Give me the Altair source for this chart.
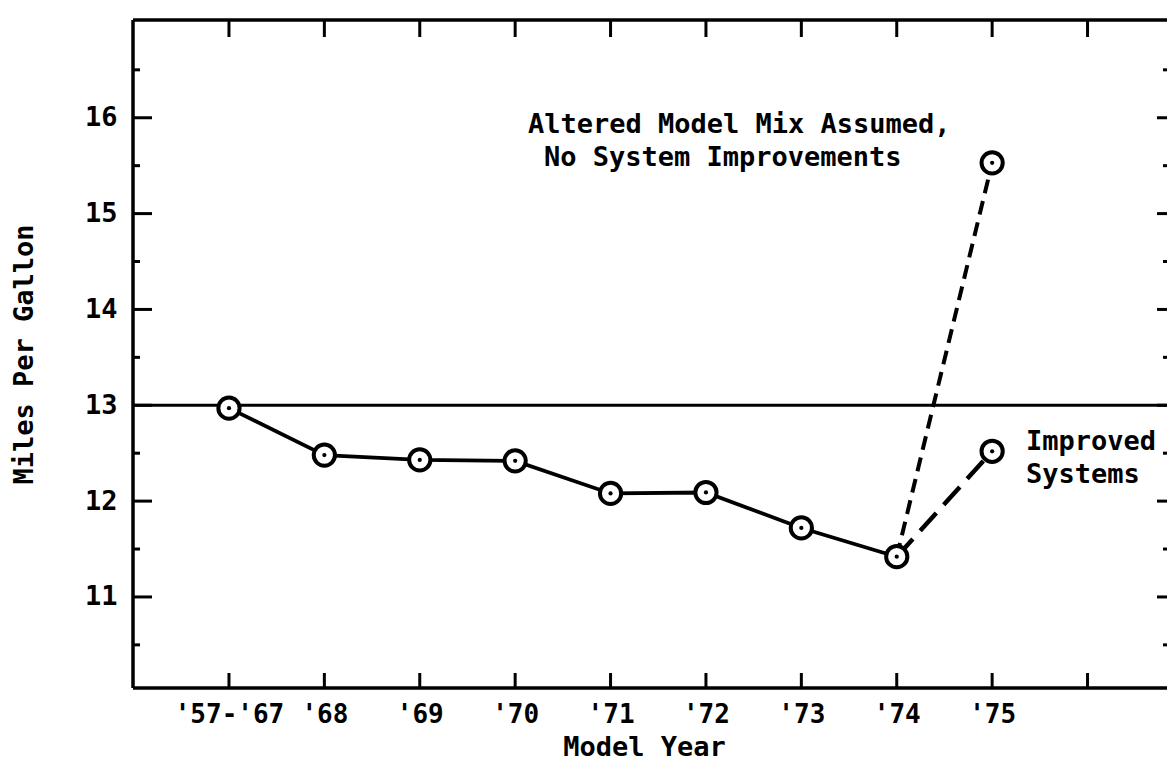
import json
import altair as alt
import pandas as pd

# ---- data ----
years = ["'57-'67", "'68", "'69", "'70", "'71", "'72", "'73", "'74", "'75"]
baseline_idx = [0, 1, 2, 3, 4, 5, 6, 7]
baseline_mpg = [12.97, 12.48, 12.43, 12.42, 12.08, 12.09, 11.72, 11.42]
altered_idx = [7, 8]
altered_mpg = [11.42, 15.53]
improved_idx = [7, 8]
improved_mpg = [11.42, 12.52]
reference_mpg = [13.0]
y_major = [11, 12, 13, 14, 15, 16]
y_minor = [10.5, 11.5, 12.5, 13.5, 14.5, 15.5, 16.5]
x_ticks = [0, 1, 2, 3, 4, 5, 6, 7, 8, 9]

W, H = 1034, 668
PAD_L, PAD_T, PAD_B = 125, 12, 75
FONT = "DejaVu Sans Mono"
FS = 27

xs = alt.Scale(domain=[-1.006, 9.833], nice=False, zero=False)
ys = alt.Scale(domain=[10.05, 17.02], nice=False, zero=False)

label_expr = json.dumps(years) + "[datum.value] || ''"
X_AXIS = alt.Axis(
    values=list(range(len(years))), labelExpr=label_expr, ticks=False,
    domain=False, grid=False, labelPadding=13.5, titlePadding=7,
    title="Model Year", labelFontSize=26, titleX=511)
Y_AXIS = alt.Axis(
    values=y_major, format="d", ticks=False, domain=False, grid=False,
    labelPadding=16, titlePadding=46, title="Miles Per Gallon")

base_df = pd.DataFrame({"i": baseline_idx, "mpg": baseline_mpg})
alt_df = pd.DataFrame({"i": altered_idx, "mpg": altered_mpg})
imp_df = pd.DataFrame({"i": improved_idx, "mpg": improved_mpg})
pts_df = pd.DataFrame({
    "i": baseline_idx + [altered_idx[1], improved_idx[1]],
    "mpg": baseline_mpg + [altered_mpg[1], improved_mpg[1]],
})
ref_df = pd.DataFrame({"v": reference_mpg})
ymaj_df = pd.DataFrame({"v": y_major})
ymin_df = pd.DataFrame({"v": y_minor})
xt_df = pd.DataFrame({"v": x_ticks})
one_df = pd.DataFrame({"k": [0]})


def xq(field):
    return alt.X(field, scale=xs, axis=X_AXIS)


def yq(field):
    return alt.Y(field, scale=ys, axis=Y_AXIS)


main_line = alt.Chart(base_df).mark_line(color="black", strokeWidth=3.8).encode(
    x=xq("i:Q"), y=yq("mpg:Q"))
altered_line = alt.Chart(alt_df).mark_line(
    color="black", strokeWidth=4, strokeDash=[14, 8]).encode(x=xq("i:Q"), y=yq("mpg:Q"))
improved_line = alt.Chart(imp_df).mark_line(
    color="black", strokeWidth=4.5, strokeDash=[24, 11]).encode(x=xq("i:Q"), y=yq("mpg:Q"))

ref_rule = alt.Chart(ref_df).mark_rule(color="black", strokeWidth=2.8).encode(y=yq("v:Q"))

circles = alt.Chart(pts_df).mark_point(
    shape="circle", filled=True, fill="white", stroke="black",
    strokeWidth=4, size=450, opacity=1).encode(x=xq("i:Q"), y=yq("mpg:Q"))
dots = alt.Chart(pts_df).mark_circle(color="black", size=18, opacity=1).encode(
    x=xq("i:Q"), y=yq("mpg:Q"))

# frame (left, top, bottom)
frame_left = alt.Chart(one_df).mark_rule(color="black", strokeWidth=3.5).encode(
    x=alt.value(0), y=alt.value(0), y2=alt.value(H))
frame_top = alt.Chart(one_df).mark_rule(color="black", strokeWidth=3.5).encode(
    y=alt.value(0), x=alt.value(0), x2=alt.value(W))
frame_bottom = alt.Chart(one_df).mark_rule(color="black", strokeWidth=3.5).encode(
    y=alt.value(H), x=alt.value(0), x2=alt.value(W))

# inward ticks
left_major = alt.Chart(ymaj_df).mark_rule(color="black", strokeWidth=3).encode(
    y=yq("v:Q"), x=alt.value(0), x2=alt.value(19))
left_minor = alt.Chart(ymin_df).mark_rule(color="black", strokeWidth=3).encode(
    y=yq("v:Q"), x=alt.value(0), x2=alt.value(7))
right_major = alt.Chart(ymaj_df).mark_rule(color="black", strokeWidth=3).encode(
    y=yq("v:Q"), x=alt.value(W), x2=alt.value(W - 10))
right_minor = alt.Chart(ymin_df).mark_rule(color="black", strokeWidth=3).encode(
    y=yq("v:Q"), x=alt.value(W), x2=alt.value(W - 4))
top_ticks = alt.Chart(xt_df).mark_rule(color="black", strokeWidth=3).encode(
    x=xq("v:Q"), y=alt.value(0), y2=alt.value(17))
bottom_ticks = alt.Chart(xt_df).mark_rule(color="black", strokeWidth=3).encode(
    x=xq("v:Q"), y=alt.value(H), y2=alt.value(H - 15))


def note(text, xv, yv):
    return alt.Chart(one_df).mark_text(
        align="left", baseline="middle", font=FONT, fontSize=FS,
        fontWeight="bold", color="black").encode(
        x=alt.X(datum=xv, type="quantitative", scale=xs, axis=X_AXIS),
        y=alt.Y(datum=yv, type="quantitative", scale=ys, axis=Y_AXIS),
        text=alt.value(text))


notes = [
    note("Altered Model Mix Assumed,", 3.134, 15.924),
    note("No System Improvements", 3.302, 15.58),
    note("Improved", 8.354, 12.617),
    note("Systems", 8.354, 12.273),
]

chart = alt.layer(
    main_line, ref_rule, altered_line, improved_line, circles, dots,
    frame_left, frame_top, frame_bottom,
    left_major, left_minor, right_major, right_minor, top_ticks, bottom_ticks,
    *notes,
).properties(
    width=W, height=H,
    autosize=alt.AutoSizeParams(type="none"),
    padding={"left": PAD_L, "top": PAD_T, "right": 0, "bottom": PAD_B},
    background="white",
).configure_view(stroke=None).configure_axis(
    labelFont=FONT, titleFont=FONT, labelFontSize=FS, titleFontSize=FS,
    labelFontWeight="bold", titleFontWeight="bold",
    labelColor="black", titleColor="black",
)

chart.save("out.html", embed_options={"renderer": "svg", "actions": False})
